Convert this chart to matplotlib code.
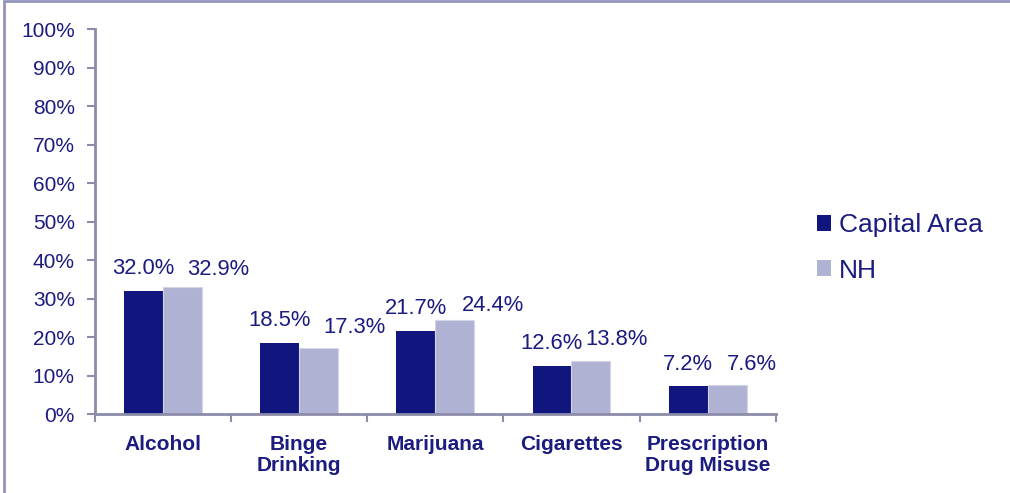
import matplotlib
matplotlib.use("Agg")
from matplotlib import pyplot as plt
from matplotlib.patches import Patch, Rectangle
import numpy as np

plt.rcParams['font.family'] = ['Liberation Sans', 'DejaVu Sans']

categories = ["Alcohol", "Binge\nDrinking", "Marijuana", "Cigarettes", "Prescription\nDrug Misuse"]
capital_area = [32.0, 18.5, 21.7, 12.6, 7.2]
nh = [32.9, 17.3, 24.4, 13.8, 7.6]
series_names = ["Capital Area", "NH"]
yticks = np.arange(0, 101, 10)

dark = "#10167D"
light = "#B0B2D4"
navy = "#1B1B80"
axis_col = "#8C8CAA"

# label nudges in pixels (Excel moved the NH labels aside)
nh_dx = [36, 36, 38, 26, 25]
nh_dy = [18, 20, 15, 21, 20]

fig = plt.figure(figsize=(10.10, 4.93), dpi=100)
ax = fig.add_axes([0.094, 0.160, 0.674, 0.781])

x = np.arange(len(categories))
w = 0.286
b1 = ax.bar(x - w / 2, capital_area, w, color=dark, zorder=2)
b2 = ax.bar(x + w / 2, nh, w, color=light, edgecolor="#D4D5E8", linewidth=0.8, zorder=2)

for i, r in enumerate(b1):
    ax.annotate(f"{capital_area[i]:.1f}%", (r.get_x() + r.get_width() / 2, r.get_height()),
                xytext=(0, 22), textcoords="offset pixels", ha="center", va="center",
                fontsize=15.8, color=navy)
for i, r in enumerate(b2):
    ax.annotate(f"{nh[i]:.1f}%", (r.get_x() + r.get_width() / 2, r.get_height()),
                xytext=(nh_dx[i], nh_dy[i]), textcoords="offset pixels", ha="center", va="center",
                fontsize=15.8, color=navy)

ax.set_xlim(-0.5, len(categories) - 0.5)
ax.set_ylim(0, 100)
ax.set_yticks(yticks)
ax.set_yticklabels([f"{v}%" for v in yticks], fontsize=15, color=navy)
ax.set_xticks(np.arange(len(categories) + 1) - 0.5)
ax.set_xticklabels([])
ax.set_xticks(x, minor=True)
ax.set_xticklabels(categories, minor=True, fontsize=15, fontweight="bold", color=navy,
                   linespacing=1.15)
ax.tick_params(axis="x", which="minor", length=0, pad=15)
ax.tick_params(axis="x", which="major", length=6, width=1.5, color=axis_col, direction="out")
ax.tick_params(axis="y", length=6, width=1.5, color=axis_col, pad=8.5)

for s in ["top", "right"]:
    ax.spines[s].set_visible(False)
for s in ["left", "bottom"]:
    ax.spines[s].set_color(axis_col)
    ax.spines[s].set_linewidth(2)

handles = [Patch(facecolor=dark), Patch(facecolor=light)]
leg = fig.legend(handles, series_names, loc="center left", bbox_to_anchor=(0.798, 0.497),
                 frameon=False, fontsize=19, handlelength=0.55, handleheight=0.55,
                 handletextpad=0.3, labelspacing=0.8, borderaxespad=0)
for t in leg.get_texts():
    t.set_color(navy)

# frame around the picture (only top and left show)
fig.patches.append(Rectangle((0.004, -0.01), 1.2, 1.008, transform=fig.transFigure,
                             fill=False, edgecolor="#9494BA", linewidth=2))

fig.savefig("out.png", dpi=100)
